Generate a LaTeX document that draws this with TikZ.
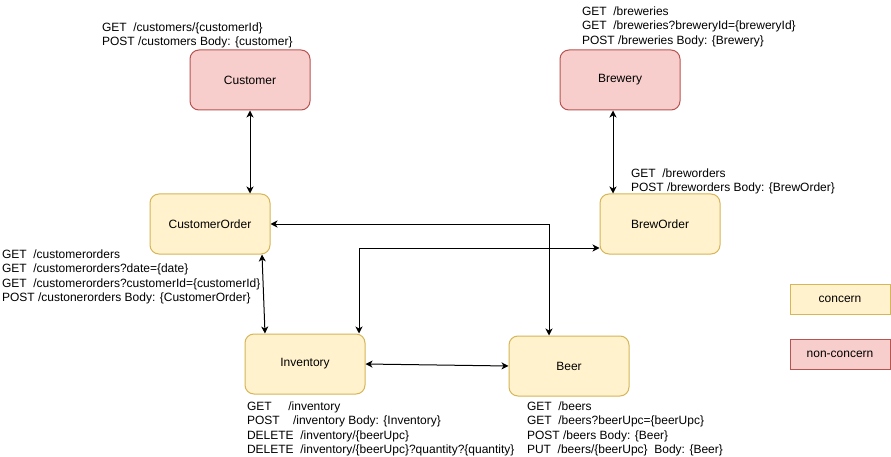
\documentclass[tikz,border=0pt]{standalone}
\usepackage{fontspec}
\setmainfont{Liberation Sans}
\usepackage{xcolor}
\usetikzlibrary{arrows.meta}

\begin{document}
\begin{tikzpicture}[x=1pt,y=-1pt,
  svcconcern/.style={draw=concernDraw,fill=concernFill,line width=1pt,rounded corners=9pt,minimum width=120pt,minimum height=60pt,inner sep=0pt,font=\fontsize{12}{14}\selectfont},
  svcother/.style={svcconcern,draw=otherDraw,fill=otherFill},
  legendbox/.style={draw=#1Draw,fill=#1Fill,line width=1pt,minimum width=100pt,minimum height=30pt,inner sep=0pt,font=\fontsize{12}{14}\selectfont},
  apitext/.style={anchor=north west,align=left,inner sep=0pt,outer sep=0pt,font=\fontsize{12}{14.3}\selectfont},
  link/.style={line width=1pt,{Stealth[length=7pt,width=7pt,inset=2pt]}-{Stealth[length=7pt,width=7pt,inset=2pt]}}]
\definecolor{concernFill}{RGB}{255,242,204}
\definecolor{concernDraw}{RGB}{214,182,86}
\definecolor{otherFill}{RGB}{248,206,204}
\definecolor{otherDraw}{RGB}{184,84,80}
\path[use as bounding box,fill=white] (0,0) rectangle (891,457);

% services
\node[svcother] (customer) at (250,80) {Customer};
\node[svcother] (brewery) at (620,80) {Brewery};
\node[svcconcern] (custorder) at (210,224) {CustomerOrder};
\node[svcconcern] (breworder) at (660,224) {BrewOrder};
\node[svcconcern] (inventory) at (305,364) {Inventory};
\node[svcconcern] (beer) at (569,366) {Beer};

% legend
\node[legendbox=concern] (legconcern) at (840,299) {concern};
\node[legendbox=other] (legother) at (840,354) {non-concern};

% endpoints
\node[apitext] (customerapi) at (102,23) {GET\ \ /customers/\{customerId\}\\POST /customers Body: \{customer\}};
\node[apitext] (breweryapi) at (582,7) {GET\ \ /breweries\\GET\ \ /breweries?breweryId=\{breweryId\}\\POST /breweries Body: \{Brewery\}};
\node[apitext] (breworderapi) at (631,169) {GET\ \ /breworders\\POST /breworders Body: \{BrewOrder\}};
\node[apitext] (custorderapi) at (2,250) {GET\ \ /customerorders\\GET\ \ /customerorders?date=\{date\}\\GET\ \ /customerorders?customerId=\{customerId\}\\POST /custonerorders Body: \{CustomerOrder\}};
\node[apitext] (inventoryapi) at (247,402) {GET\ \ \ \ \ /inventory\\POST\ \ \ \ /inventory Body: \{Inventory\}\\DELETE\ \ /inventory/\{beerUpc\}\\DELETE\ \ /inventory/\{beerUpc\}?quantity?\{quantity\}};
\node[apitext] (beerapi) at (527,402) {GET\ \ /beers\\GET\ \ /beers?beerUpc=\{beerUpc\}\\POST /beers Body: \{Beer\}\\PUT\ \ /beers/\{beerUpc\}\ \ Body: \{Beer\}};

% connectors
\draw[link] (customer.south) -- (customer.south |- custorder.north);
\draw[link] ([xshift=-7pt]brewery.south) -- ([xshift=-7pt]brewery.south |- breworder.north);
\draw[link] ([xshift=52pt]custorder.south) -- ([xshift=-40pt]inventory.north);
\draw[link] (custorder.east) -| ([xshift=-20pt]beer.north);
\draw[link] ([xshift=54pt]inventory.north) |- ([yshift=-24pt]breworder.west);
\draw[link] (inventory.east) -- (beer.west);
\end{tikzpicture}
\end{document}
